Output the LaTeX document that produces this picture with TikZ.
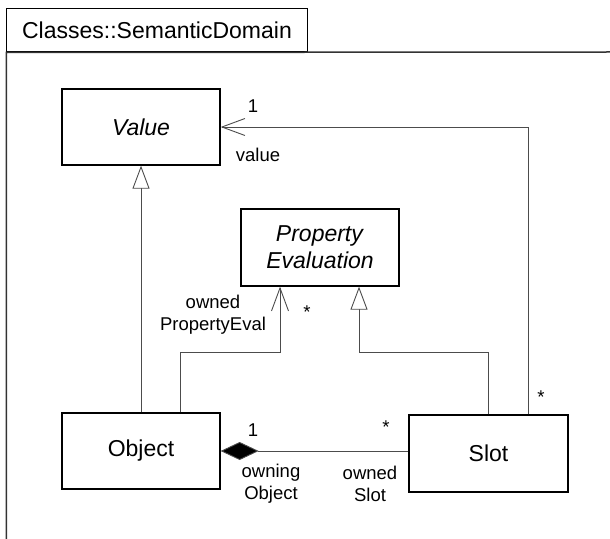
\documentclass[tikz,border=0pt]{standalone}
\usepackage{fontspec}
\setmainfont{Liberation Sans}
\usetikzlibrary{arrows.meta}

\tikzset{
  cls/.style={draw, line width=1.3bp, fill=white, minimum width=158bp, minimum height=76bp,
    inner sep=0pt, align=center, font=\fontsize{23bp}{27bp}\selectfont},
  lbl/.style={inner sep=0pt, align=center, font=\fontsize{18.5bp}{22bp}\selectfont},
  link/.style={draw=black!70, line width=0.9bp},
  gen/.style={link, -{Triangle[open, length=23bp, width=17bp, fill=white]}},
  nav/.style={link, -{Straight Barb[length=23bp, width=17bp]}},
  comp/.style={link, -{Diamond[length=38bp, width=18bp, fill=black]}}
}

\begin{document}
\begin{tikzpicture}[x=1bp, y=-1bp]
\useasboundingbox (0,0) rectangle (610,539);

% frame
\node[draw, line width=1bp, minimum width=300bp, minimum height=43bp, inner sep=0pt,
  font=\fontsize{23bp}{27bp}\selectfont] (tab) at (157,30.5) {Classes::SemanticDomain};
\draw[line width=1.5bp, black!80] (610,52) -- (tab.south west) -- (tab.south west |- 0,545);

% classes
\node[cls] (value) at (141,127) {\textit{Value}};
\node[cls, minimum height=77bp] (propeval) at (320,247.5) {\textit{Property}\\\textit{Evaluation}};
\node[cls] (object) at (141,451) {Object};
\node[cls, minimum width=159bp, minimum height=77bp] (slot) at (488.5,453.5) {Slot};

% generalizations
\draw[gen] (object.north) -- (value.south);
\draw[gen] (slot.north) -- ++(0,-62) -| ([xshift=39bp]propeval.south);

% associations
\draw[nav] ([xshift=39bp]object.north) -- ++(0,-60) -| ([xshift=-40bp]propeval.south);
\draw[nav] ([xshift=40bp]slot.north) |- (value.east);
\draw[comp] (slot.west |- object.east) -- (object.east);

% ends
\node[lbl] (valmult) at (253,106) {1};
\node[lbl] (valrole) at (258,155) {value};
\node[lbl] (perole) at (213,315) {owned\\PropertyEval};
\node[lbl] (pemult) at (307,312) {*};
\node[lbl] (objmult) at (253,430) {1};
\node[lbl] (objrole) at (271,484) {owning\\Object};
\node[lbl] (slotmult) at (386,427) {*};
\node[lbl] (slotrole) at (370,484) {owned\\Slot};
\node[lbl] (valslotmult) at (541,397) {*};
\end{tikzpicture}
\end{document}
